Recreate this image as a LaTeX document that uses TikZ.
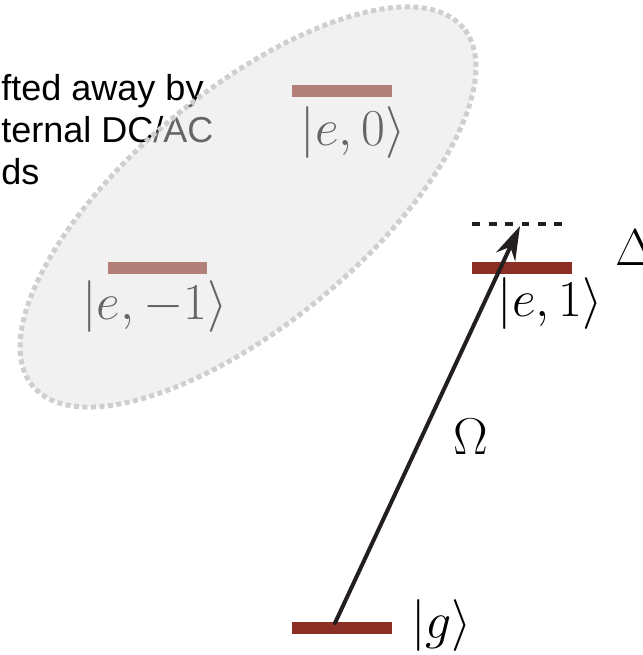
\RequirePackage{fix-cm}
\documentclass[tikz,border=0pt]{standalone}
\usepackage{amsmath}
\usepackage{fontspec}
\setsansfont{Liberation Sans}
\usepackage{tikz}
\usetikzlibrary{arrows.meta,positioning}
\definecolor{lvl}{HTML}{8B2F24}
\definecolor{ink}{HTML}{231F20}
\definecolor{haze}{HTML}{E0E0E0}
\definecolor{rim}{HTML}{CFCFCF}

\begin{document}
\begin{tikzpicture}[x=0.02cm,y=0.02cm,line cap=round,
  lvlbar/.style={fill=lvl,minimum width=2cm,minimum height=0.24cm,inner sep=0},
  ket/.style={font=\fontsize{29.5}{34}\selectfont,inner sep=0}]
  \useasboundingbox (0,0) rectangle (642,655);
  \node[anchor=base west,align=left,inner sep=0,font=\sffamily\fontsize{20.5}{24.1}\selectfont] (note) at (1,470) {fted away by\\ternal DC/AC\\ds};
  \node[lvlbar] (e0) at (342,563.5) {};
  \node[lvlbar] (em1) at (157.5,387) {};
  \node[lvlbar] (e1) at (522,387) {};
  \node[lvlbar] (g) at (342,27) {};
  \node[ket] (e0k) at (353,522.5) {$|e,0\rangle$};
  \node[ket] (em1k) at (155,348.5) {$|e,-1\rangle$};
  \node[ket] (e1k) at (550,351) {$|e,1\rangle$};
  \node[ket] (gk) at (441.5,29) {$|g\rangle$};
  \fill[haze,opacity=0.45,rotate around={39.7:(248,448)}] (248,448) ellipse [x radius=280,y radius=116.5];
  \draw[rim,line width=0.1cm,line cap=butt,dash pattern=on 0.1cm off 0.07cm,rotate around={39.7:(248,448)}] (248,448) ellipse [x radius=280,y radius=116.5];
  \coordinate (gtop) at (335,32);
  \coordinate (virt) at (520,429);
  \draw[ink,line width=0.08cm,line cap=butt,dash pattern=on 0.16cm off 0.17cm] (472,431) -- (566,431);
  \draw[ink,line width=0.08cm,-{Stealth[length=0.68cm,width=0.42cm]}] (gtop) -- (virt);
  \node[ket] (om) at (471,218) {$\Omega$};
  \node[ket,anchor=west] (det) at (615,407) {$\Delta$};
\end{tikzpicture}
\end{document}
